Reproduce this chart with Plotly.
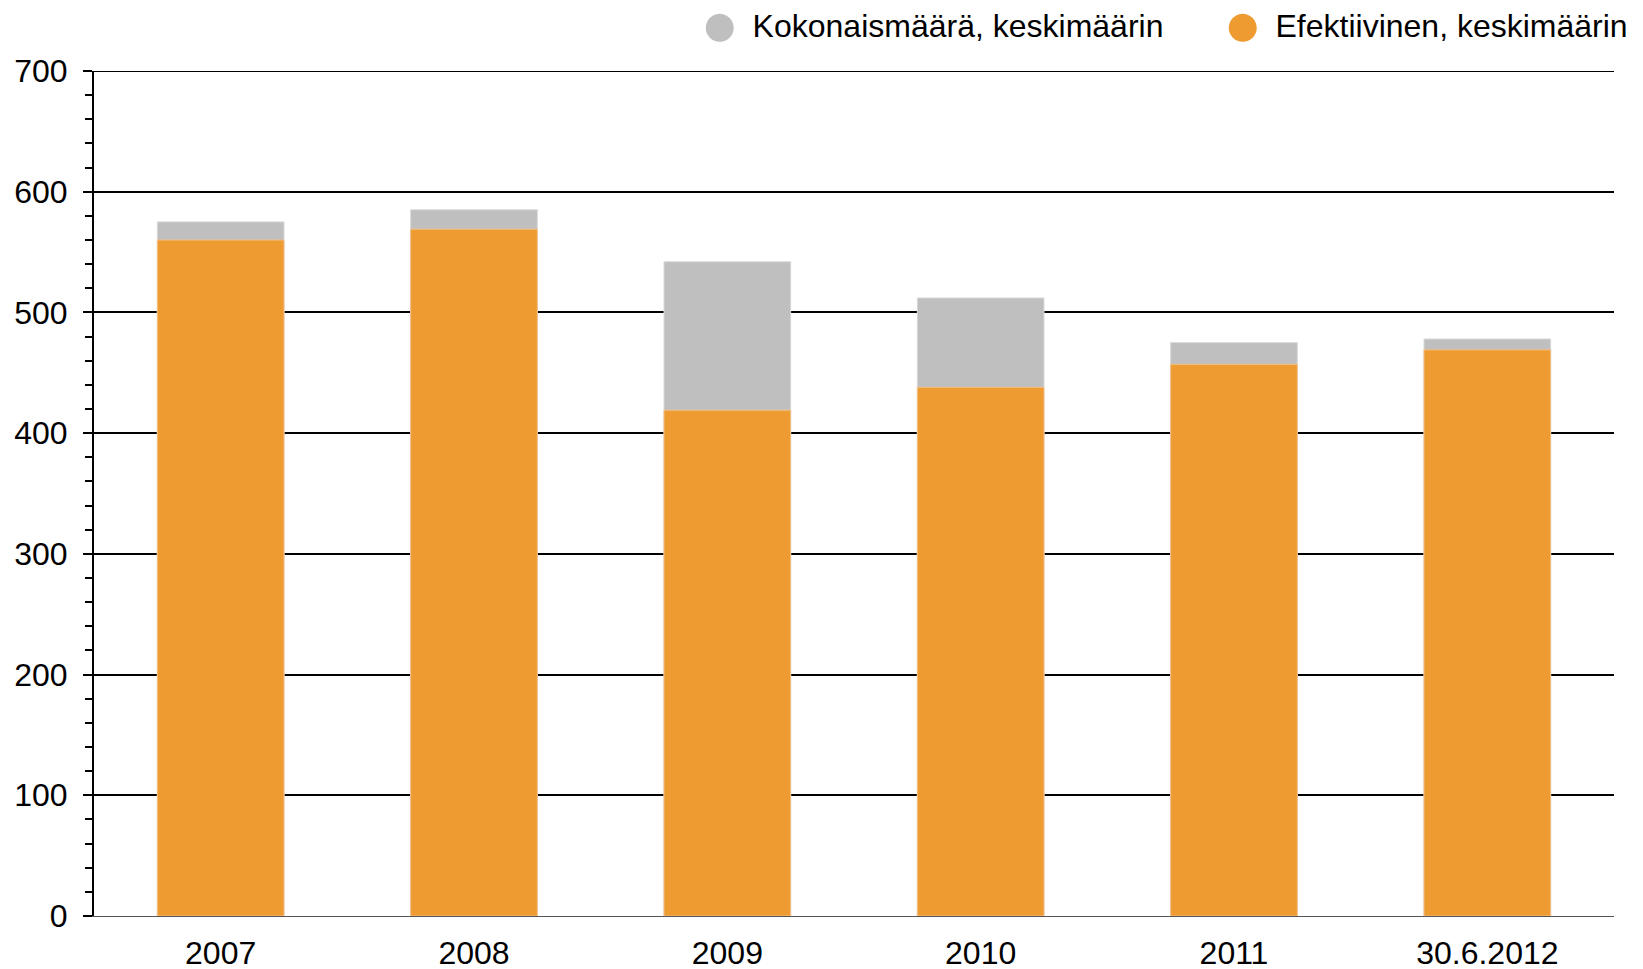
import plotly.graph_objects as go

categories = ["2007", "2008", "2009", "2010", "2011", "30.6.2012"]
total_avg = [575, 585, 542, 512, 475, 478]
effective_avg = [560, 569, 419, 438, 457, 469]
series_names = ["Kokonaismäärä, keskimäärin", "Efektiivinen, keskimäärin"]
y_ticks = [0, 100, 200, 300, 400, 500, 600, 700]

GRAY = "#BFBFBF"
ORANGE = "#EE9B31"
FONT = "Liberation Sans, Arial, sans-serif"

fig = go.Figure()
fig.add_trace(go.Bar(x=categories, y=total_avg, name=series_names[0],
                     marker=dict(color=GRAY, line=dict(color="#D9D9D9", width=1)),
                     width=0.5, showlegend=False))
fig.add_trace(go.Bar(x=categories, y=effective_avg, name=series_names[1],
                     marker=dict(color=ORANGE, line=dict(color="#F3C18A", width=1)),
                     width=0.5, showlegend=False))
# legend entries: large circle glyph + label
trail = ["<span style='font-size:26px'>&nbsp;&nbsp;</span>", ""]
for name, col, tr in zip(series_names, [GRAY, ORANGE], trail):
    label = (f"<span style='color:{col};font-size:65px;baseline-shift:-9px'>●</span>"
             f"<span style='font-size:48px'>&nbsp;</span>{name}{tr}")
    fig.add_trace(go.Scatter(x=[categories[0]], y=[None], mode="markers", name=label,
                             marker=dict(symbol="circle", size=1, color="rgba(0,0,0,0)")))

fig.add_shape(type="line", xref="paper", yref="y", x0=0, x1=1, y0=y_ticks[-1], y1=y_ticks[-1],
              line=dict(color="#000000", width=2), layer="below")

fig.update_layout(
    width=1643, height=969,
    barmode="overlay",
    plot_bgcolor="white", paper_bgcolor="white",
    margin=dict(l=86, r=37, t=63, b=61, autoexpand=False),
    font=dict(family=FONT, size=32, color="#000000"),
    legend=dict(orientation="h", x=1.0125, xanchor="right", yref="paper", y=1.0544, yanchor="middle",
                font=dict(size=32), bgcolor="rgba(0,0,0,0)", traceorder="normal", itemwidth=30),
    showlegend=True,
)
fig.update_xaxes(type="category", range=[-0.5, 5.5], showline=True, linecolor="#555555", linewidth=1,
                 ticks="", showgrid=False, tickfont=dict(size=32), ticklabelstandoff=9, automargin=False)
fig.update_yaxes(range=[0, 700], tickvals=y_ticks, showgrid=True, gridcolor="#000000", gridwidth=2,
                 showline=True, linecolor="#000000", linewidth=2, ticks="outside", ticklen=9,
                 tickwidth=2, tickcolor="#000000", tickfont=dict(size=32), zeroline=False, automargin=False,
                 minor=dict(dtick=20, ticks="outside", ticklen=7, tickwidth=2, tickcolor="#000000", showgrid=False),
                 ticklabelstandoff=9)

fig.write_html("out.html")
